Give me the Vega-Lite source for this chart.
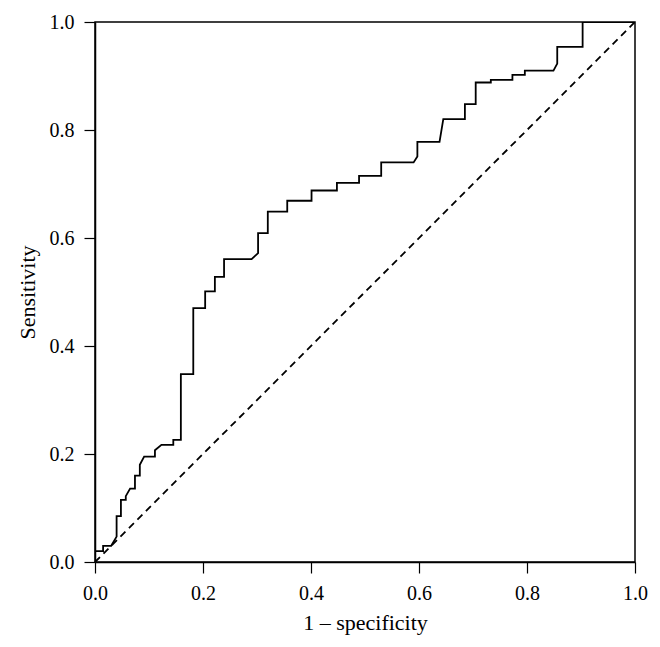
{
  "$schema": "https://vega.github.io/schema/vega-lite/v6.json",
  "width": 540,
  "height": 540,
  "autosize": "none",
  "padding": {"left": 95, "top": 22, "right": 25, "bottom": 85},
  "background": "white",
  "config": {
    "font": "Liberation Serif",
    "view": {"stroke": "black", "strokeWidth": 1.5},
    "axis": {
      "grid": false,
      "domainColor": "black",
      "domainWidth": 1.5,
      "tickColor": "black",
      "tickWidth": 1.2,
      "tickSize": 11,
      "labelFont": "Liberation Serif",
      "labelFontSize": 20,
      "labelColor": "black",
      "labelPadding": 10,
      "labelFlush": false,
      "titleFont": "Liberation Serif",
      "titleFontSize": 22,
      "titleFontWeight": "normal",
      "titleColor": "black"
    }
  },
  "layer": [
    {
      "data": {
        "values": [
          {"i": 0, "fpr": 0, "tpr": 0},
          {"i": 1, "fpr": 0, "tpr": 0.02},
          {"i": 2, "fpr": 0.015, "tpr": 0.02},
          {"i": 3, "fpr": 0.015, "tpr": 0.03},
          {"i": 4, "fpr": 0.03, "tpr": 0.03},
          {"i": 5, "fpr": 0.04, "tpr": 0.047},
          {"i": 6, "fpr": 0.04, "tpr": 0.085},
          {"i": 7, "fpr": 0.048, "tpr": 0.085},
          {"i": 8, "fpr": 0.048, "tpr": 0.115},
          {"i": 9, "fpr": 0.057, "tpr": 0.115},
          {"i": 10, "fpr": 0.057, "tpr": 0.122},
          {"i": 11, "fpr": 0.065, "tpr": 0.136},
          {"i": 12, "fpr": 0.074, "tpr": 0.136},
          {"i": 13, "fpr": 0.074, "tpr": 0.16},
          {"i": 14, "fpr": 0.083, "tpr": 0.16},
          {"i": 15, "fpr": 0.083, "tpr": 0.18},
          {"i": 16, "fpr": 0.091, "tpr": 0.195},
          {"i": 17, "fpr": 0.111, "tpr": 0.195},
          {"i": 18, "fpr": 0.111, "tpr": 0.207},
          {"i": 19, "fpr": 0.123, "tpr": 0.217},
          {"i": 20, "fpr": 0.145, "tpr": 0.217},
          {"i": 21, "fpr": 0.145, "tpr": 0.226},
          {"i": 22, "fpr": 0.159, "tpr": 0.226},
          {"i": 23, "fpr": 0.159, "tpr": 0.348},
          {"i": 24, "fpr": 0.182, "tpr": 0.348},
          {"i": 25, "fpr": 0.182, "tpr": 0.47},
          {"i": 26, "fpr": 0.204, "tpr": 0.47},
          {"i": 27, "fpr": 0.204, "tpr": 0.501},
          {"i": 28, "fpr": 0.222, "tpr": 0.501},
          {"i": 29, "fpr": 0.222, "tpr": 0.528},
          {"i": 30, "fpr": 0.239, "tpr": 0.528},
          {"i": 31, "fpr": 0.239, "tpr": 0.561},
          {"i": 32, "fpr": 0.29, "tpr": 0.561},
          {"i": 33, "fpr": 0.302, "tpr": 0.572},
          {"i": 34, "fpr": 0.302, "tpr": 0.609},
          {"i": 35, "fpr": 0.32, "tpr": 0.609},
          {"i": 36, "fpr": 0.32, "tpr": 0.649},
          {"i": 37, "fpr": 0.356, "tpr": 0.649},
          {"i": 38, "fpr": 0.356, "tpr": 0.669},
          {"i": 39, "fpr": 0.401, "tpr": 0.669},
          {"i": 40, "fpr": 0.401, "tpr": 0.688},
          {"i": 41, "fpr": 0.448, "tpr": 0.688},
          {"i": 42, "fpr": 0.448, "tpr": 0.702},
          {"i": 43, "fpr": 0.489, "tpr": 0.702},
          {"i": 44, "fpr": 0.489, "tpr": 0.715},
          {"i": 45, "fpr": 0.53, "tpr": 0.715},
          {"i": 46, "fpr": 0.53, "tpr": 0.74},
          {"i": 47, "fpr": 0.59, "tpr": 0.74},
          {"i": 48, "fpr": 0.597, "tpr": 0.751},
          {"i": 49, "fpr": 0.597, "tpr": 0.778},
          {"i": 50, "fpr": 0.638, "tpr": 0.778},
          {"i": 51, "fpr": 0.645, "tpr": 0.82},
          {"i": 52, "fpr": 0.685, "tpr": 0.82},
          {"i": 53, "fpr": 0.685, "tpr": 0.848},
          {"i": 54, "fpr": 0.705, "tpr": 0.848},
          {"i": 55, "fpr": 0.705, "tpr": 0.888},
          {"i": 56, "fpr": 0.733, "tpr": 0.888},
          {"i": 57, "fpr": 0.733, "tpr": 0.893},
          {"i": 58, "fpr": 0.773, "tpr": 0.893},
          {"i": 59, "fpr": 0.773, "tpr": 0.902},
          {"i": 60, "fpr": 0.796, "tpr": 0.902},
          {"i": 61, "fpr": 0.796, "tpr": 0.91},
          {"i": 62, "fpr": 0.849, "tpr": 0.91},
          {"i": 63, "fpr": 0.856, "tpr": 0.923},
          {"i": 64, "fpr": 0.856, "tpr": 0.954},
          {"i": 65, "fpr": 0.903, "tpr": 0.954},
          {"i": 66, "fpr": 0.903, "tpr": 1.0},
          {"i": 67, "fpr": 1.0, "tpr": 1.0}
        ]
      },
      "mark": {"type": "line", "color": "black", "strokeWidth": 1.8, "clip": true},
      "encoding": {
        "x": {
          "field": "fpr", "type": "quantitative",
          "scale": {"domain": [0, 1], "nice": false},
          "axis": {"title": "1 – specificity", "values": [0, 0.2, 0.4, 0.6, 0.8, 1.0], "format": ".1f", "titlePadding": 9}
        },
        "y": {
          "field": "tpr", "type": "quantitative",
          "scale": {"domain": [0, 1], "nice": false},
          "axis": {"title": "Sensitivity", "values": [0, 0.2, 0.4, 0.6, 0.8, 1.0], "format": ".1f", "titlePadding": 10}
        },
        "order": {"field": "i", "type": "quantitative"}
      }
    },
    {
      "data": {"values": [{"fpr": 0, "tpr": 0}, {"fpr": 1, "tpr": 1}]},
      "mark": {"type": "line", "color": "black", "strokeWidth": 1.8, "strokeDash": [7, 5]},
      "encoding": {
        "x": {"field": "fpr", "type": "quantitative"},
        "y": {"field": "tpr", "type": "quantitative"}
      }
    }
  ]
}
